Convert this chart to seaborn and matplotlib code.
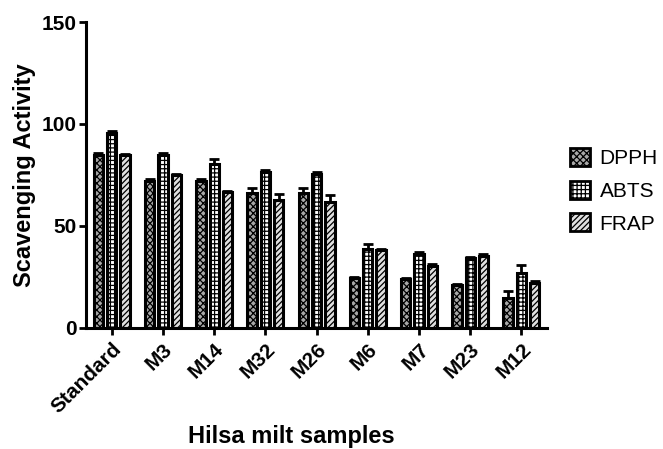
import numpy as np
import pandas as pd
import matplotlib
matplotlib.use("Agg")
import matplotlib.pyplot as plt
import matplotlib.patches as mpatches
import seaborn as sns

samples = ["Standard", "M3", "M14", "M32", "M26", "M6", "M7", "M23", "M12"]
assays = ["DPPH", "ABTS", "FRAP"]
dpph = [84.8, 72.0, 72.0, 66.0, 66.0, 24.2, 23.9, 20.9, 14.5]
abts = [95.5, 85.0, 80.5, 76.6, 75.5, 38.6, 36.3, 34.0, 27.0]
frap = [84.8, 75.0, 66.8, 62.7, 61.8, 38.0, 30.4, 35.3, 21.9]
dpph_err = [0.8, 0.8, 0.8, 2.5, 2.5, 0.5, 0.5, 0.8, 3.5]
abts_err = [0.8, 0.8, 2.5, 0.8, 0.8, 2.5, 0.8, 0.8, 4.0]
frap_err = [0.5, 0.5, 0.5, 3.0, 3.5, 0.8, 0.8, 0.8, 0.8]

sns.set_theme(style="ticks")
plt.rcParams['font.family'] = ['Liberation Sans', 'DejaVu Sans']
plt.rcParams['hatch.linewidth'] = 0.9
plt.rcParams['text.color'] = 'black'
plt.rcParams['axes.labelcolor'] = 'black'
plt.rcParams['xtick.color'] = 'black'
plt.rcParams['ytick.color'] = 'black'

df = pd.DataFrame({
    "sample": samples * 3,
    "assay": sum([[a] * len(samples) for a in assays], []),
    "value": dpph + abts + frap,
})
errs = {"DPPH": dpph_err, "ABTS": abts_err, "FRAP": frap_err}

fig = plt.figure(figsize=(6.63, 4.49), dpi=100)
ax = fig.add_axes([0.130, 0.270, 0.695, 0.681])

styles = {
    "DPPH": dict(face="#a8a8a8", hatch="xxxxx"),
    "ABTS": dict(face="#ffffff", hatch="++++"),
    "FRAP": dict(face="#e0e0e0", hatch="//////"),
}

sns.barplot(data=df, x="sample", y="value", hue="assay", order=samples,
            hue_order=assays, errorbar=None, width=0.78, gap=0.3,
            palette=[styles[a]["face"] for a in assays], ax=ax, legend=False,
            edgecolor="black", linewidth=2.2)

for cont, a in zip(ax.containers, assays):
    xs, ys = [], []
    for p in cont.patches:
        p.set_hatch(styles[a]["hatch"])
        p.set_facecolor(styles[a]["face"])
        p.set_edgecolor("black")
        xs.append(p.get_x() + p.get_width() / 2)
        ys.append(p.get_height())
    e = np.array(errs[a])
    ax.errorbar(xs, ys, yerr=[np.zeros_like(e), e], fmt="none",
                ecolor="black", elinewidth=2, capsize=3.5, capthick=2, zorder=3)

ax.set_xlim(-0.5, 8.5)
ax.set_ylim(0, 150)
ax.set_yticks([0, 50, 100, 150])
sns.despine(ax=ax)
for s in ["left", "bottom"]:
    ax.spines[s].set_linewidth(2.2)
    ax.spines[s].set_color("black")
ax.tick_params(axis="both", width=2, length=5, color="black", direction="out")
ax.tick_params(axis="y", labelsize=15, pad=2)
plt.setp(ax.get_yticklabels(), fontweight="bold")
ax.set_xticks(range(len(samples)))
ax.set_xticklabels(samples, rotation=45, ha="right", rotation_mode="anchor",
                   fontsize=15, fontweight="bold")
ax.set_ylabel("Scavenging Activity", fontsize=17, fontweight="bold", labelpad=4)
ax.set_xlabel("")
fig.text(0.44, 0.027, "Hilsa milt samples", ha="center", va="center",
         fontsize=17, fontweight="bold")

handles = [mpatches.Patch(facecolor=styles[a]["face"], edgecolor="black",
                          hatch=styles[a]["hatch"], linewidth=2, label=a)
           for a in assays]
fig.legend(handles=handles, loc="center left", bbox_to_anchor=(0.832, 0.575),
           frameon=False, fontsize=15, handlelength=0.95, handleheight=0.95,
           handletextpad=0.45, labelspacing=0.6)

fig.savefig("out.png", dpi=100)
